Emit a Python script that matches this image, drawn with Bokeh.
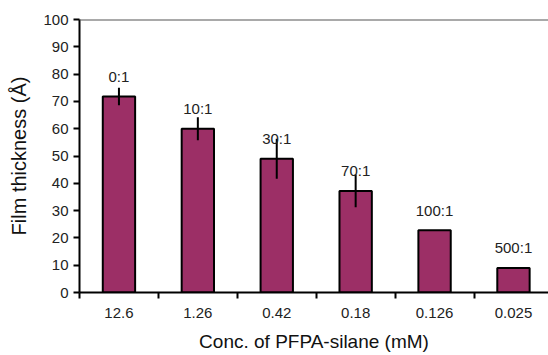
from bokeh.plotting import figure
from bokeh.models import ColumnDataSource, FixedTicker, LabelSet, Span, Range1d
from bokeh.core.properties import value
from bokeh.embed import file_html
from bokeh.resources import INLINE

# ---- data ----
concentrations = ["12.6", "1.26", "0.42", "0.18", "0.126", "0.025"]
ratios = ["0:1", "10:1", "30:1", "70:1", "100:1", "500:1"]
thickness = [71.8, 60.0, 49.0, 37.2, 22.8, 9.0]
errors = [3.2, 4.2, 7.3, 6.0, 0.0, 0.0]
y_ticks = [0, 10, 20, 30, 40, 50, 60, 70, 80, 90, 100]

FONT = "Liberation Sans"
n = len(concentrations)
xs = [i + 0.5 for i in range(n)]

src = ColumnDataSource(dict(
    x=xs,
    top=thickness,
    lo=[v - e for v, e in zip(thickness, errors)],
    hi=[v + e for v, e in zip(thickness, errors)],
    lab=ratios,
))

p = figure(width=548, height=355, output_backend="svg", toolbar_location=None,
           x_range=Range1d(0, 5.944), y_range=Range1d(0, 100),
           min_border_left=79, min_border_right=0, min_border_top=19, min_border_bottom=63)
p.outline_line_color = None
p.grid.grid_line_color = None
p.background_fill_color = "white"

p.vbar(x="x", top="top", width=0.41, bottom=0, source=src,
       fill_color="#9c2f66", line_color="black", line_width=2)
p.segment(x0="x", y0="lo", x1="x", y1="hi", source=src, line_color="black", line_width=2)

labels = LabelSet(x="x", y="top", text="lab", source=src, y_offset=20,
                  text_align="center", text_baseline="middle",
                  text_font=value(FONT), text_font_size=value("15px"), text_color="#222222")
p.add_layout(labels)

p.add_layout(Span(location=100, dimension="width", line_color="#555555", line_width=2))

# y axis
p.yaxis.ticker = FixedTicker(ticks=y_ticks)
p.yaxis.axis_line_width = 2
p.yaxis.axis_line_color = "black"
p.yaxis.major_tick_out = 6
p.yaxis.major_tick_in = 0
p.yaxis.major_tick_line_width = 2
p.yaxis.minor_tick_line_color = None
p.yaxis.major_label_text_font = FONT
p.yaxis.major_label_text_font_size = "15px"
p.yaxis.major_label_text_color = "#222222"
p.yaxis.major_label_standoff = 5
p.yaxis.axis_label = "Film thickness (Å)"
p.yaxis.axis_label_text_font = FONT
p.yaxis.axis_label_text_font_size = "20px"
p.yaxis.axis_label_text_font_style = "normal"
p.yaxis.axis_label_text_color = "#111111"
p.yaxis.axis_label_standoff = 10

# x axis
p.xaxis.ticker = FixedTicker(ticks=xs, minor_ticks=list(range(n + 1)))
p.xaxis.major_label_overrides = {x: c for x, c in zip(xs, concentrations)}
p.xaxis.axis_line_width = 2
p.xaxis.axis_line_color = "black"
p.xaxis.major_tick_line_color = None
p.xaxis.major_tick_out = 0
p.xaxis.major_tick_in = 0
p.xaxis.minor_tick_out = 6
p.xaxis.minor_tick_in = 0
p.xaxis.minor_tick_line_width = 2
p.xaxis.minor_tick_line_color = "black"
p.xaxis.major_label_text_font = FONT
p.xaxis.major_label_text_font_size = "15px"
p.xaxis.major_label_text_color = "#222222"
p.xaxis.major_label_standoff = 9
p.xaxis.axis_label = "Conc. of PFPA-silane (mM)"
p.xaxis.axis_label_text_font = FONT
p.xaxis.axis_label_text_font_size = "19px"
p.xaxis.axis_label_text_font_style = "normal"
p.xaxis.axis_label_text_color = "#111111"
p.xaxis.axis_label_standoff = 10

open("out.html", "w").write(file_html(p, INLINE))
